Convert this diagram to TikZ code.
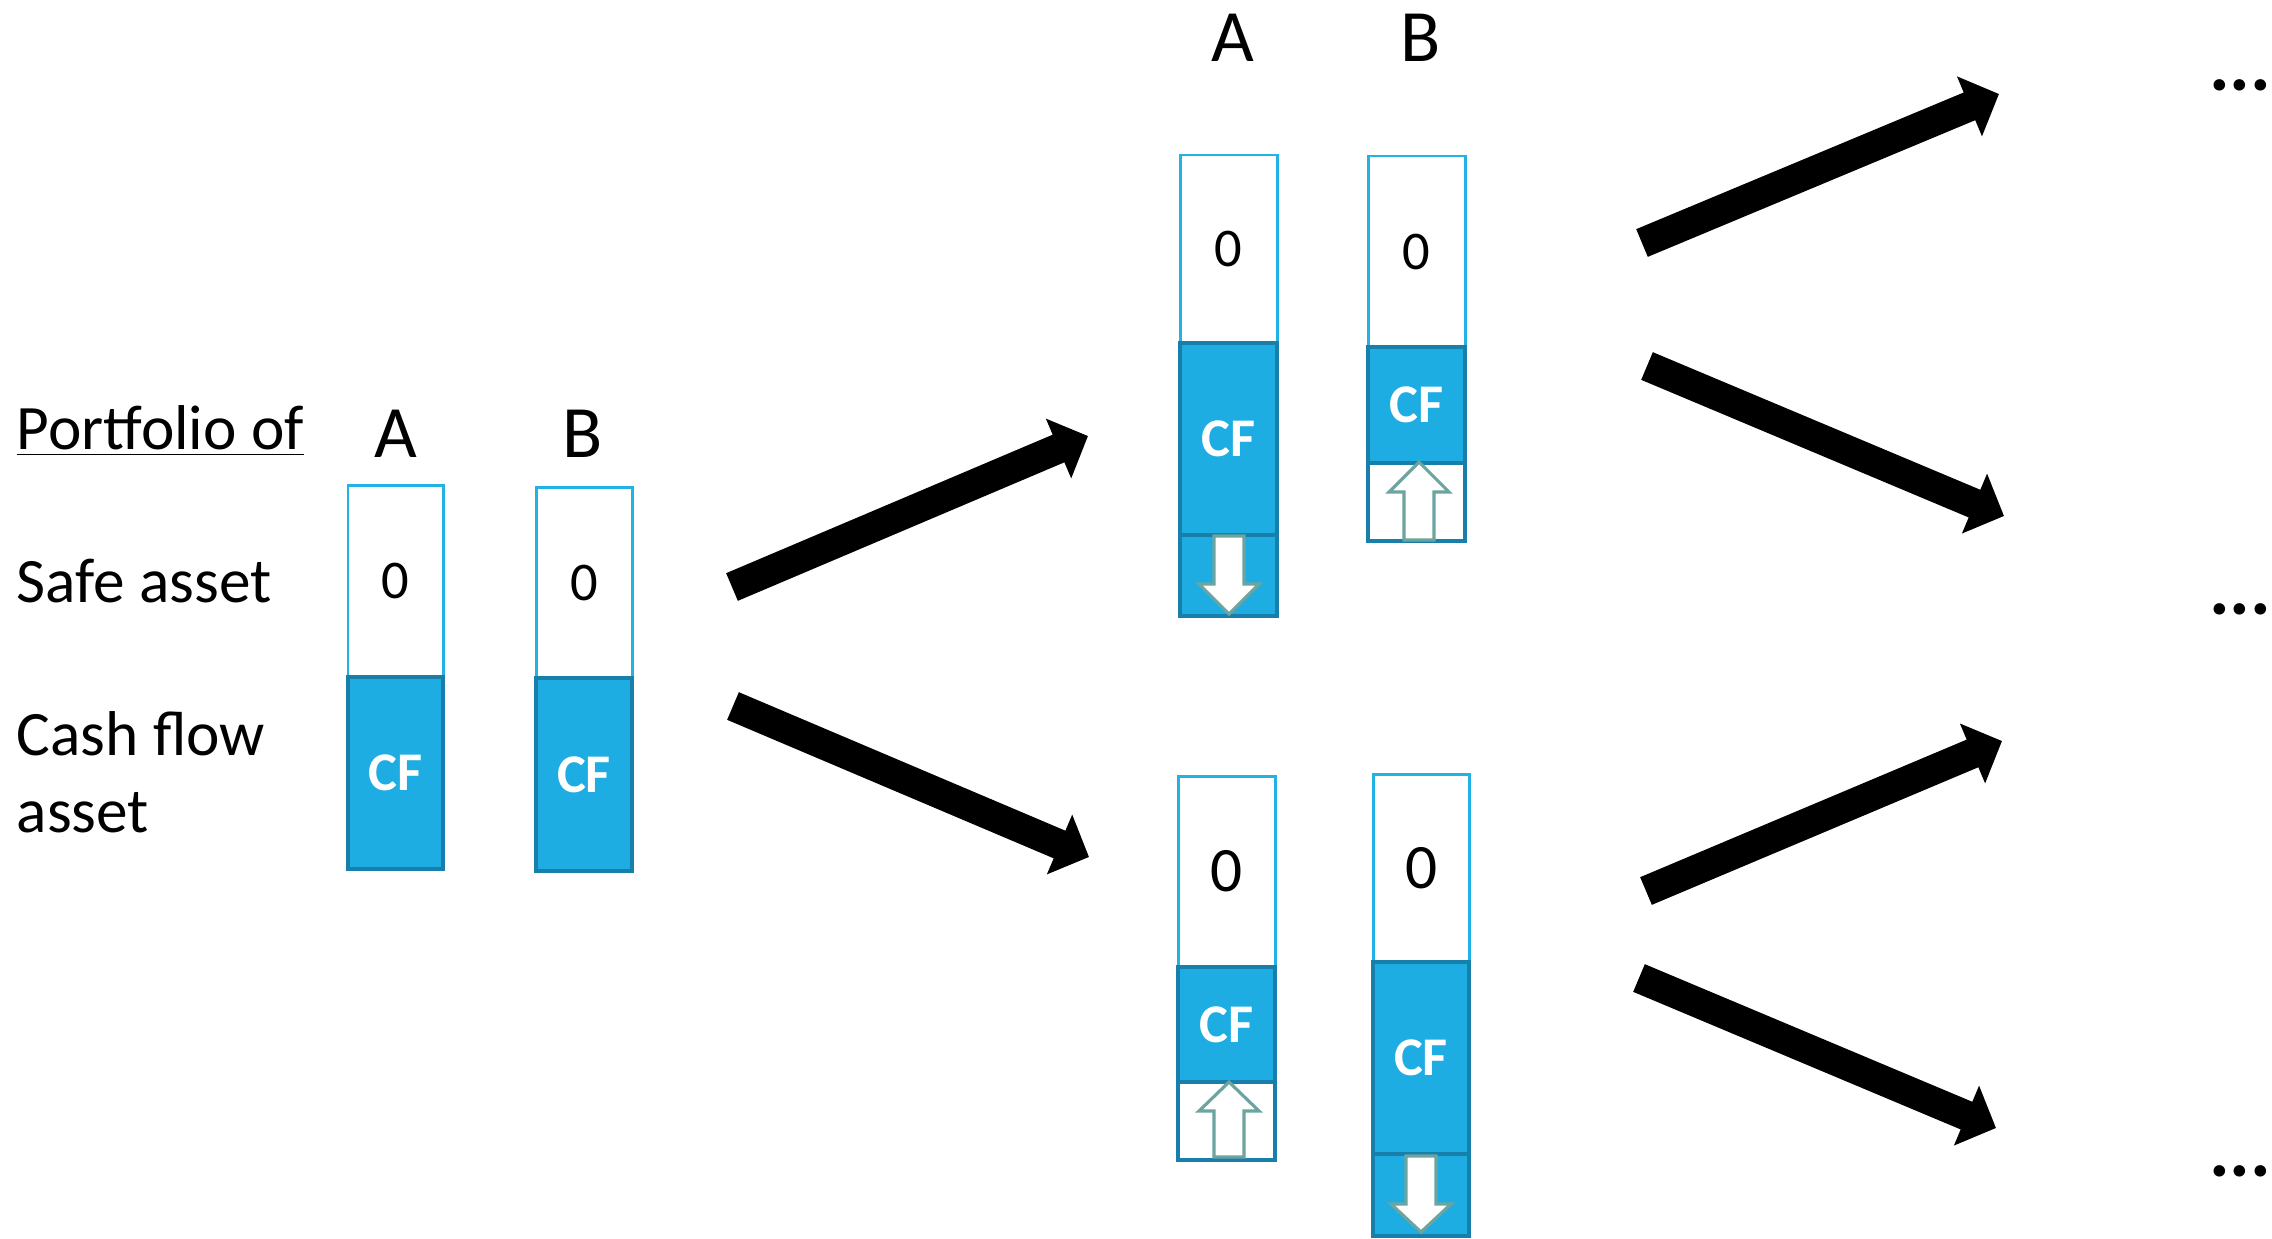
\documentclass[tikz,border=0pt]{standalone}
\usepackage{fontspec}
\setmainfont{Carlito}
\usetikzlibrary{arrows.meta}

\definecolor{cffill}{RGB}{29,173,226}
\definecolor{safeline}{RGB}{35,178,230}
\definecolor{cfline}{RGB}{24,126,170}
\definecolor{moveline}{RGB}{108,164,160}

\newcommand{\txtfont}{\fontsize{18}{22}\selectfont}
\newcommand{\hdfont}{\fontsize{21}{25}\selectfont}
\newcommand{\zerofont}{\fontsize{15.5}{18}\selectfont}
\newcommand{\cffont}{\fontsize{15.5}{18}\selectfont\bfseries}
\newcommand{\dotfont}{\fontsize{22}{26}\selectfont\bfseries}

% hollow arrow inside a box: centre x, base y, head y, tip y
\newcommand{\movearrow}[4]{%
  \draw[moveline,line width=0.9pt,fill=white,line join=miter]
    (#1-15,#2) -- (#1-15,#3) -- (#1-30,#3) -- (#1,#4) -- (#1+30,#3)
    -- (#1+15,#3) -- (#1+15,#2) -- cycle;}

\tikzset{
  safebox/.style={draw=safeline,line width=0.85pt,fill=white,anchor=north west,
    inner sep=0pt,outer sep=0pt,font=\zerofont},
  cfbox/.style={draw=cfline,line width=1.1pt,fill=cffill,anchor=north west,
    inner sep=0pt,outer sep=0pt,text=white,font=\cffont},
  extrabox/.style={draw=cfline,line width=1.1pt,anchor=north west,
    inner sep=0pt,outer sep=0pt},
  txt/.style={anchor=base west,inner sep=0pt,font=\txtfont},
  hd/.style={anchor=base,inner sep=0pt,font=\hdfont},
  more/.style={anchor=base,inner sep=0pt,font=\dotfont},
  bigarrow/.style={line width=0.3cm,-{Triangle[length=0.32cm,width=0.63cm]}}
}

\begin{document}
\begin{tikzpicture}[x=0.01cm,y=-0.01cm]
\useasboundingbox (0,0) rectangle (2272,1239);

% labels on the left
\node[txt] (portf) at (16,449) {\underline{Portfolio of}};
\node[txt] (safe) at (16,602) {Safe asset};
\node[txt] (cash) at (16,755) {Cash flow};
\node[txt] (cash2) at (16,832) {asset};
\node[hd] (lA) at (396,457) {A};
\node[hd] (lB) at (583,457) {B};

% starting portfolios
\node[safebox,minimum width=0.95cm,minimum height=1.92cm] (lAsafe) at (348,485) {0};
\node[cfbox,minimum width=0.95cm,minimum height=1.92cm] (lAcf) at (348,677) {CF};
\node[safebox,minimum width=0.96cm,minimum height=1.91cm] (lBsafe) at (536,487) {0};
\node[cfbox,minimum width=0.96cm,minimum height=1.93cm] (lBcf) at (536,678) {CF};

% upper state
\node[hd] (uA) at (1233,61) {A};
\node[hd] (uB) at (1421,61) {B};
\node[safebox,minimum width=0.97cm,minimum height=1.88cm] (uAsafe) at (1180,155) {0};
\node[cfbox,minimum width=0.97cm,minimum height=1.92cm] (uAcf) at (1180,343) {CF};
\node[extrabox,fill=cffill,minimum width=0.97cm,minimum height=0.81cm] (uAdown) at (1180,535) {};
\movearrow{1229}{536}{584}{614}
\node[safebox,minimum width=0.97cm,minimum height=1.91cm] (uBsafe) at (1368,156) {0};
\node[cfbox,minimum width=0.97cm,minimum height=1.16cm] (uBcf) at (1368,347) {CF};
\node[extrabox,fill=white,minimum width=0.97cm,minimum height=0.78cm] (uBup) at (1368,463) {};
\movearrow{1419}{540}{492}{462}

% lower state
\node[safebox,minimum width=0.97cm,minimum height=1.91cm,font=\txtfont] (dAsafe) at (1178,776) {0};
\node[cfbox,minimum width=0.97cm,minimum height=1.15cm] (dAcf) at (1178,967) {CF};
\node[extrabox,fill=white,minimum width=0.97cm,minimum height=0.78cm] (dAup) at (1178,1082) {};
\movearrow{1229}{1157}{1111}{1082}
\node[safebox,minimum width=0.96cm,minimum height=1.88cm,font=\txtfont] (dBsafe) at (1373,774) {0};
\node[cfbox,minimum width=0.96cm,minimum height=1.92cm] (dBcf) at (1373,962) {CF};
\node[extrabox,fill=cffill,minimum width=0.96cm,minimum height=0.82cm] (dBdown) at (1373,1154) {};
\movearrow{1421}{1156}{1204}{1232}

% transitions
\coordinate (s1) at (732,587);  \coordinate (e1) at (1088,436);
\coordinate (s2) at (733,706);  \coordinate (e2) at (1089,857);
\coordinate (s3) at (1642,243); \coordinate (e3) at (1999,94);
\coordinate (s4) at (1647,366); \coordinate (e4) at (2004,516);
\coordinate (s5) at (1646,891); \coordinate (e5) at (2002,741);
\coordinate (s6) at (1639,978); \coordinate (e6) at (1996,1128);
\foreach \i in {1,...,6}
  \draw[bigarrow] (s\i) -- (e\i);

\node[more] (m1) at (2240,90) {...};
\node[more] (m2) at (2240,614) {...};
\node[more] (m3) at (2240,1176) {...};
\end{tikzpicture}
\end{document}
